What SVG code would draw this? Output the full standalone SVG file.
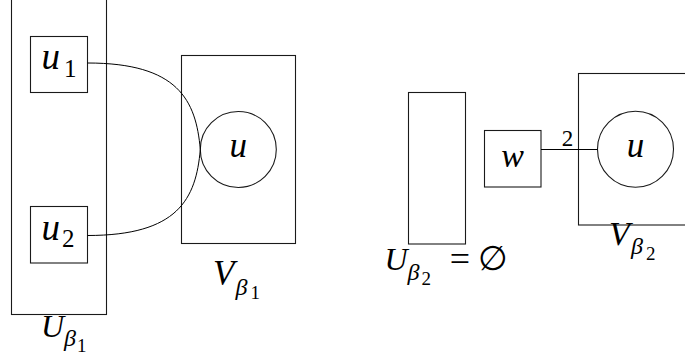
<svg xmlns="http://www.w3.org/2000/svg" width="685" height="364" viewBox="0 0 685 364">
<style>
.b{fill:none;stroke:#1a1a1a;stroke-width:1.1}
.e{fill:none;stroke:#000;stroke-width:1}
text{font-family:"Liberation Serif","DejaVu Serif",serif;fill:#000}
.i{font-style:italic}
.s1{font-size:24px}
.s2{font-size:19px}
</style>
<rect width="685" height="364" fill="#fff"/>
<g id="U_beta1">
<rect class="b" x="11.5" y="-5" width="95" height="319.5"/>
<text class="i" x="41" y="336.5" font-size="32">U</text>
<text class="i s1" x="64" y="346">β</text>
<text class="s2" x="77" y="351.5">1</text>
</g>
<g id="u1">
<rect class="b" x="30.5" y="36.5" width="57" height="56"/>
<text class="i" x="41.5" y="68.5" font-size="37">u</text>
<text x="64" y="77" font-size="25">1</text>
</g>
<g id="u2">
<rect class="b" x="30.5" y="206.5" width="57" height="56.5"/>
<text class="i" x="41.5" y="239.5" font-size="37">u</text>
<text x="62" y="247" font-size="25">2</text>
</g>
<g id="V_beta1">
<rect class="b" x="181.5" y="55.5" width="114" height="188"/>
<text class="i" x="213" y="285" font-size="35">V</text>
<text class="i s1" x="235.5" y="295">β</text>
<text class="s2" x="250.5" y="298.5">1</text>
</g>
<g id="u_left">
<circle class="b" cx="238.3" cy="149.5" r="38"/>
<text class="i" x="238.3" y="156.5" font-size="35" text-anchor="middle">u</text>
</g>
<g id="U_beta2">
<rect class="b" x="408.5" y="92.5" width="57" height="151.5"/>
<text class="i" x="384.5" y="270" font-size="32">U</text>
<text class="i s1" x="407.5" y="280">β</text>
<text class="s2" x="421.5" y="284.5">2</text>
<text x="460" y="271" font-size="36" text-anchor="middle">=</text>
<text x="493" y="270" font-size="34" text-anchor="middle">∅</text>
</g>
<g id="w">
<rect class="b" x="484.5" y="130.5" width="56.5" height="56.5"/>
<text class="i" x="512.7" y="166.5" font-size="34" text-anchor="middle">w</text>
</g>
<g id="V_beta2">
<rect class="b" x="578.5" y="73.5" width="120" height="151.5"/>
<text class="i" x="609" y="245" font-size="34">V</text>
<text class="i s1" x="631" y="254">β</text>
<text class="s2" x="646" y="259.5">2</text>
</g>
<g id="u_right">
<circle class="b" cx="635.5" cy="149.3" r="38"/>
<text class="i" x="635.5" y="156.5" font-size="35" text-anchor="middle">u</text>
</g>
<g id="connectors">
<path class="e" d="M87.5,63 C178,63 196,100 200.3,149.5"/>
<path class="e" d="M87.5,235.5 C178,235.5 196,199 200.3,149.5"/>
<line class="e" x1="541" y1="149.5" x2="597.5" y2="149.5"/>
<text x="567.5" y="146" font-size="23" text-anchor="middle">2</text>
</g>
</svg>
